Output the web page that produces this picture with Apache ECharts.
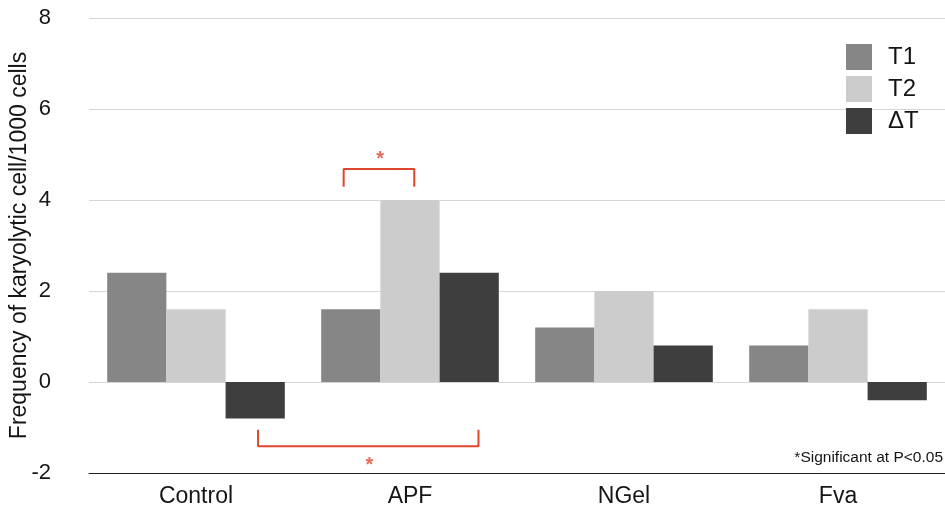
<!DOCTYPE html>
<html><head><meta charset="utf-8">
<script src="https://cdn.jsdelivr.net/npm/echarts@6/dist/echarts.min.js"></script>
<style>html,body{margin:0;padding:0;background:#fff}#c{width:945px;height:510px}</style>
</head><body><div id="c"></div>
<script>
const categories = ['Control', 'APF', 'NGel', 'Fva'];
const t1 = [2.4, 1.6, 1.2, 0.8];
const t2 = [1.6, 4.0, 2.0, 1.6];
const dT = [-0.8, 2.4, 0.8, -0.4];
const yTicks = { min: -2, max: 8, interval: 2 };
// significance brackets, x in category units (index), y in data units
const bracketTop = [[0.69, 4.29], [0.69, 4.68], [1.02, 4.68], [1.02, 4.29]];
const bracketBottom = [[0.29, -1.05], [0.29, -1.41], [1.32, -1.41], [1.32, -1.05]];
const stars = [[0.86, 4.97], [0.81, -1.74]];
const note = '*Significant at P<0.05';

const FONT = '"Liberation Sans", Arial, Helvetica, sans-serif';
const RED = '#e0452d';
const TXT = '#151515';
const chart = echarts.init(document.getElementById('c'));
chart.setOption({
  animation: false,
  textStyle: { fontFamily: FONT },
  grid: { left: 89, right: 0, top: 18, bottom: 37, containLabel: false, outerBoundsMode: 'none' },
  legend: {
    data: ['T1', 'T2', 'ΔT'], orient: 'vertical', left: 846, top: 44, padding: 0,
    itemWidth: 26, itemHeight: 26, itemGap: 6, icon: 'rect',
    textStyle: { fontSize: 24, color: TXT, fontFamily: FONT, padding: [0, 0, 0, 11] }
  },
  xAxis: [{
    type: 'category', data: categories,
    axisLine: { onZero: false, lineStyle: { color: '#222', width: 1 } },
    axisTick: { show: false },
    axisLabel: { fontSize: 23, color: TXT, margin: 12, fontFamily: FONT }
  }, {
    type: 'value', min: -0.5, max: 3.5, show: false
  }],
  yAxis: {
    type: 'value', min: yTicks.min, max: yTicks.max, interval: yTicks.interval,
    name: 'Frequency of karyolytic cell/1000 cells', nameLocation: 'middle', nameGap: 58,
    nameMoveOverlap: false,
    nameTextStyle: { fontSize: 23, color: TXT, fontFamily: FONT },
    axisLine: { show: false }, axisTick: { show: false },
    axisLabel: { fontSize: 22, color: TXT, margin: 38, fontFamily: FONT },
    splitLine: { lineStyle: { color: '#d6d6d6', width: 1 } }
  },
  series: [
    { name: 'T1', type: 'bar', data: t1, itemStyle: { color: '#868686' }, barGap: '0%', barCategoryGap: '17%' },
    { name: 'T2', type: 'bar', data: t2, itemStyle: { color: '#cccccc' }, barGap: '0%', barCategoryGap: '17%' },
    { name: 'ΔT', type: 'bar', data: dT, itemStyle: { color: '#3e3e3e' }, barGap: '0%', barCategoryGap: '17%' },
    { type: 'line', xAxisIndex: 1, data: bracketTop, symbol: 'none', lineStyle: { color: RED, width: 2 }, silent: true },
    { type: 'line', xAxisIndex: 1, data: bracketBottom, symbol: 'none', lineStyle: { color: RED, width: 2 }, silent: true },
    { type: 'scatter', xAxisIndex: 1, data: stars, symbolSize: 0, silent: true,
      label: { show: true, formatter: '*', position: 'inside', color: RED, fontSize: 20, fontWeight: 'bold', fontFamily: FONT, offset: [0, 4] } }
  ],
  graphic: [{
    type: 'text', right: 2, top: 450,
    style: { text: note, fontSize: 15.5, fill: TXT, fontFamily: FONT }
  }]
});
</script></body></html>
